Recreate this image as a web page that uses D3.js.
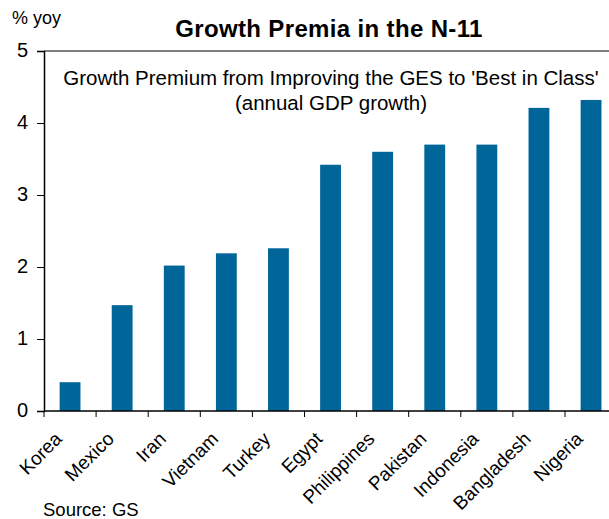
<!DOCTYPE html>
<html><head><meta charset="utf-8">
<script src="https://cdn.jsdelivr.net/npm/d3@7"></script>
<style>body{margin:0;background:#fff}svg{display:block}text{font-family:"Liberation Sans",Arial,sans-serif;fill:#000}</style>
</head><body><svg id="c" width="609" height="519"></svg>
<script>
const categories=["Korea","Mexico","Iran","Vietnam","Turkey","Egypt","Philippines","Pakistan","Indonesia","Bangladesh","Nigeria"];
const values=[0.40,1.47,2.02,2.19,2.26,3.42,3.60,3.70,3.70,4.21,4.32];
const yTicks=[0,1,2,3,4,5];
const title="Growth Premia in the N-11";
const subtitle=["Growth Premium from Improving the GES to 'Best in Class'","(annual GDP growth)"];
const unitLabel="% yoy";
const source="Source: GS";

const svg=d3.select("#c");
const x=d3.scaleBand().domain(categories).range([44,44+11*52.1]).paddingInner(0.6).paddingOuter(0.3);
const y=d3.scaleLinear().domain([0,5]).range([411,51]);

svg.append("g").selectAll("rect").data(values).join("rect")
 .attr("x",(d,i)=>x(categories[i])).attr("width",x.bandwidth())
 .attr("y",d=>y(d)).attr("height",d=>y(0)-y(d)).attr("fill","#006699");

svg.append("line").attr("x1",44).attr("x2",609).attr("y1",y(5)).attr("y2",y(5)).attr("stroke","#000").attr("stroke-width",1.2);

const ya=svg.append("g").attr("transform","translate(44,0)").call(d3.axisLeft(y).tickValues(yTicks).tickSize(7).tickPadding(9).tickFormat(d3.format("d")));
ya.select(".domain").attr("stroke-width",1.5);
ya.selectAll("text").style("font-size","20px").attr("dy","0.28em");

const step=52.1;
const xa=svg.append("g").attr("transform","translate(0,411)");
xa.append("line").attr("x1",44).attr("x2",609).attr("stroke","#000").attr("stroke-width",1.5);
xa.selectAll("line.t").data(d3.range(0,12)).join("line").attr("class","t")
 .attr("x1",i=>44+i*step).attr("x2",i=>44+i*step).attr("y1",0).attr("y2",6).attr("stroke","#000");
xa.selectAll("text").data(categories).join("text")
 .attr("transform",d=>`translate(${x(d)+x.bandwidth()/2-7},${29}) rotate(-45)`)
 .attr("text-anchor","end").style("font-size","19px").text(d=>d);

svg.append("text").attr("x",329).attr("y",37).attr("text-anchor","middle").style("font-size","24px").style("letter-spacing","0.35px").style("font-weight","bold").text(title);
svg.append("text").attr("x",12).attr("y",24).style("font-size","18px").text(unitLabel);
svg.append("g").selectAll("text").data(subtitle).join("text")
 .attr("x",331).attr("y",(d,i)=>85+i*25).attr("text-anchor","middle").style("font-size","20.5px").text(d=>d);
svg.append("text").attr("x",43).attr("y",516).style("font-size","18.5px").text(source);
</script></body></html>
